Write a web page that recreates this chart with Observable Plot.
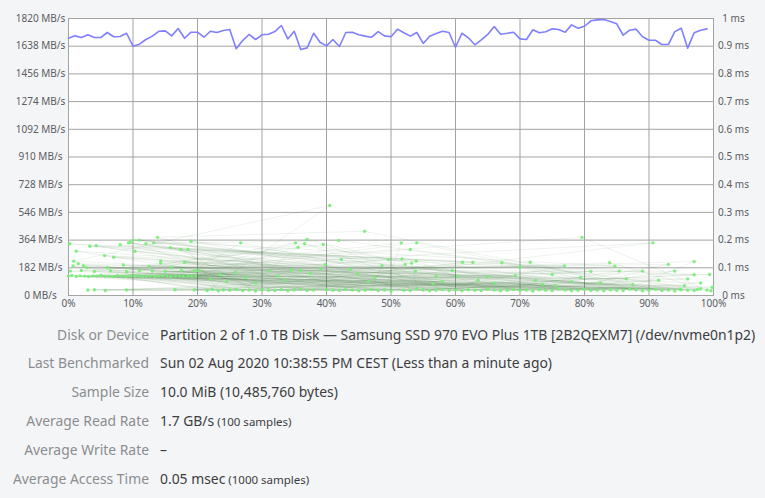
<!DOCTYPE html>
<html>
<head>
<meta charset="utf-8">
<script src="https://cdn.jsdelivr.net/npm/d3@7"></script>
<script src="https://cdn.jsdelivr.net/npm/@observablehq/plot@0.6"></script>
<style>
  html, body { margin: 0; padding: 0; background: #f4f5f7; }
  body { width: 765px; height: 498px; overflow: hidden; font-family: "Noto Sans", "Open Sans", sans-serif; }
  #chart svg { display: block; }
  #info { margin-top: 8.5px; }
  .row { display: flex; height: 28.9px; line-height: 28.9px; font-size: 13.9px; white-space: nowrap; }
  .lab { width: 149px; text-align: right; color: #8b8d90; }
  .val { padding-left: 11px; color: #3c3d3f; }
  .small { font-size: 11.5px; }
</style>
</head>
<body>
<div id="chart"></div>
<div id="info"></div>
<script>
// ---- axis ticks ----
const xTicks = [0, 10, 20, 30, 40, 50, 60, 70, 80, 90, 100];
const yTicks = [0, 182, 364, 546, 728, 910, 1092, 1274, 1456, 1638, 1820];
const msTickLabels = ["0 ms", "0.1 ms", "0.2 ms", "0.3 ms", "0.4 ms", "0.5 ms", "0.6 ms", "0.7 ms", "0.8 ms", "0.9 ms", "1 ms"];
const msMax = 1;        // right axis max (ms)
const mbsMax = 1820;    // left axis max (MB/s)

// ---- read rate samples (MB/s), 100 samples at 0%..99% ----
const readRate = [
  1690, 1706, 1695, 1713, 1695, 1695, 1728, 1700, 1702, 1723,
  1638, 1651, 1682, 1704, 1736, 1739, 1706, 1754, 1690, 1730,
  1730, 1697, 1736, 1728, 1741, 1748, 1621, 1675, 1715, 1682,
  1713, 1717, 1734, 1774, 1686, 1736, 1616, 1627, 1723, 1664,
  1640, 1682, 1636, 1728, 1730, 1713, 1704, 1697, 1734, 1706,
  1700, 1750, 1726, 1704, 1728, 1656, 1704, 1721, 1736, 1728,
  1631, 1723, 1693, 1647, 1680, 1715, 1767, 1717, 1723, 1730,
  1686, 1682, 1746, 1726, 1733, 1752, 1748, 1730, 1778, 1756,
  1769, 1805, 1811, 1813, 1800, 1785, 1710, 1743, 1750, 1700,
  1677, 1677, 1649, 1649, 1734, 1756, 1625, 1726, 1743, 1752
];

// ---- access time samples [offset %, ms] ----
const accessLeft = [
  [0.0,0.070],[13.8,0.210],[9.5,0.071],[2.0,0.090],[5.0,0.073],[0.2,0.187],[17.2,0.070],[11.0,0.090],[1.2,0.069],[10.0,0.200],
  [14.6,0.072],[3.0,0.020],[7.6,0.072],[6.5,0.089],[19.1,0.070],[5.6,0.144],[3.8,0.071],[15.0,0.087],[12.1,0.070],[1.2,0.160],
  [8.2,0.070],[0.8,0.124],[16.6,0.071],[9.0,0.086],[0.5,0.072],[13.2,0.190],[11.5,0.068],[4.0,0.087],[18.5,0.072],[14.3,0.117],
  [2.5,0.070],[19.5,0.088],[6.3,0.070],[3.3,0.178],[15.9,0.068],[13.0,0.088],[10.2,0.070],[8.0,0.183],[4.4,0.070],[2.3,0.108],
  [17.8,0.069],[9.0,0.020],[12.7,0.071],[0.3,0.088],[7.0,0.068],[15.8,0.173],[1.8,0.071],[17.5,0.090],[14.0,0.070],[11.0,0.200],
  [5.7,0.069],[0.7,0.107],[19.7,0.071],[4.3,0.180],[8.9,0.069],[20.2,0.090],[3.1,0.068],[12.0,0.187],[16.5,0.021],[10.8,0.072],
  [7.0,0.138],[18.5,0.166],[13.4,0.069],[2.8,0.100],[15.3,0.070],[9.3,0.190],[6.0,0.100],[4.0,0.021],[17.4,0.166],[14.3,0.125],
  [1.5,0.115],[19.0,0.196],[8.5,0.110],[10.3,0.160],[12.5,0.105],[5.7,0.018],[16.0,0.100],[9.6,0.192],[18.0,0.120],[19.5,0.020]
];
const accessBottom = [
  [92,0.018],[45,0.017],[99,0.020],[71,0.020],[24,0.020],[86,0.018],[58,0.022],[97,0.018],[33,0.022],[79,0.019],
  [64,0.018],[90,0.019],[28,0.020],[53,0.018],[95,0.021],[76,0.024],[40,0.021],[83,0.017],[67,0.017],[99.6,0.017],
  [21.5,0.018],[88,0.020],[49,0.020],[73,0.021],[36,0.024],[94,0.016],[61,0.017],[81,0.018],[30,0.021],[98,0.024],
  [56,0.017],[85,0.019],[42,0.018],[69,0.022],[25,0.019],[91,0.022],[77,0.020],[47,0.022],[96,0.019],[62,0.021],
  [34,0.017],[87,0.023],[52,0.019],[80,0.022],[22.3,0.022],[93,0.020],[66,0.020],[38,0.020],[74,0.019],[89,0.017],
  [59,0.018],[27,0.018],[84,0.021],[44,0.020],[70,0.018],[31,0.019],[97.5,0.022],[55,0.020],[78,0.017],[41,0.019],
  [65,0.023],[23.2,0.017],[82,0.020],[50,0.016],[35,0.020],[72,0.016],[94.8,0.023],[57,0.019],[29,0.016],[75,0.018],
  [43,0.023],[60,0.020],[26,0.023],[68,0.019],[37,0.018],[63,0.019],[48,0.018],[32,0.018],[54,0.024],[46,0.019]
];
const accessMid = [
  [45.9,0.232],[22.0,0.060],[79.6,0.210],[31.2,0.088],[61.1,0.120],[97.0,0.123],[36.6,0.187],[53.8,0.087],[84.7,0.106],[25.9,0.084],
  [66.0,0.045],[42.3,0.130],[90.6,0.190],[49.6,0.130],[75.0,0.076],[35.2,0.190],[99.4,0.076],[57.0,0.069],[27.5,0.065],[83.9,0.118],
  [40.5,0.325],[71.6,0.120],[51.6,0.190],[94.0,0.088],[33.5,0.055],[64.9,0.067],[39.5,0.184],[86.5,0.060],[20.2,0.090],[53.0,0.166],
  [76.9,0.107],[44.8,0.078],[97.0,0.075],[37.0,0.202],[60.3,0.069],[29.0,0.045],[89.0,0.088],[48.6,0.108],[70.0,0.102],[26.7,0.190],
  [81.0,0.087],[54.0,0.190],[39.8,0.112],[95.5,0.035],[62.7,0.120],[23.5,0.075],[85.4,0.088],[43.7,0.095],[73.5,0.040],[51.7,0.132],
  [99.8,0.030],[35.6,0.174],[67.2,0.118],[24.5,0.050],[93.0,0.112],[58.0,0.050],[41.9,0.199],[78.0,0.050],[32.5,0.070],[87.5,0.040],
  [53.9,0.124],[69.3,0.072],[39.1,0.097],[96.0,0.060],[56.5,0.042],[46.5,0.050],[82.5,0.045],[36.0,0.090],[72.4,0.054],[98.0,0.045],
  [52.2,0.112],[63.5,0.055],[34.5,0.092],[91.5,0.055],[47.5,0.065],[79.4,0.065],[37.5,0.080],[59.5,0.090],[53.2,0.117],[75.5,0.036]
];

// ---- info table ----
const infoLabels = ["Disk or Device", "Last Benchmarked", "Sample Size", "Average Read Rate", "Average Write Rate", "Average Access Time"];
const infoValues = [
  "Partition 2 of 1.0 TB Disk — Samsung SSD 970 EVO Plus 1TB [2B2QEXM7] (/dev/nvme0n1p2)",
  "Sun 02 Aug 2020 10:38:55 PM CEST (Less than a minute ago)",
  "10.0 MiB (10,485,760 bytes)",
  "1.7 GB/s",
  "–",
  "0.05 msec"
];
const infoNotes = ["", "", "", "(100 samples)", "", "(1000 samples)"];

// build tables for the library
const readData = readRate.map((v, i) => ({x: i, mbs: v}));
const accessSeq = [];
accessLeft.forEach((p, i) => {
  accessSeq.push({x: p[0], ms: p[1]});
  if (accessBottom[i]) accessSeq.push({x: accessBottom[i][0], ms: accessBottom[i][1]});
  if (accessMid[i]) accessSeq.push({x: accessMid[i][0], ms: accessMid[i][1]});
});
const toY = ms => ms / msMax * mbsMax;

const chart = Plot.plot({
  width: 765,
  height: 312,
  marginLeft: 68,
  marginRight: 52,
  marginTop: 18,
  marginBottom: 17,
  x: {domain: [0, 100]},
  y: {domain: [0, mbsMax]},
  style: {fontFamily: "'Noto Sans', sans-serif", fontSize: "10px", background: "transparent", color: "#5a5c5f", overflow: "visible"},
  marks: [
    Plot.frame({fill: "white", stroke: null}),
    Plot.gridX({ticks: xTicks, stroke: "#a3a3a3", strokeOpacity: 1}),
    Plot.gridY({ticks: yTicks, stroke: "#a3a3a3", strokeOpacity: 1}),
    Plot.frame({stroke: "#a3a3a3"}),
    Plot.line(accessSeq, {x: "x", y: d => toY(d.ms), stroke: "#2d6a2d", strokeOpacity: 0.14, strokeWidth: 0.6}),
    Plot.dot(accessSeq, {x: "x", y: d => toY(d.ms), r: 1.7, fill: "#74ee74", fillOpacity: 0.9, stroke: null}),
    Plot.line(readData, {x: "x", y: "mbs", stroke: "#7f7fff", strokeWidth: 1.6}),
    Plot.axisX({ticks: xTicks, tickFormat: d => d + "%", tickSize: 0, tickPadding: 4, label: null}),
    Plot.axisY({anchor: "left", ticks: yTicks, tickFormat: d => d + " MB/s", tickSize: 0, tickPadding: 28, textAnchor: "middle", label: null}),
    Plot.axisY({anchor: "right", ticks: yTicks, tickFormat: d => msTickLabels[yTicks.indexOf(d)], tickSize: 0, tickPadding: 20, textAnchor: "middle", label: null})
  ]
});
document.getElementById("chart").appendChild(chart);

const info = document.getElementById("info");
infoLabels.forEach((lab, i) => {
  const row = document.createElement("div");
  row.className = "row";
  const l = document.createElement("div");
  l.className = "lab";
  l.textContent = lab;
  const v = document.createElement("div");
  v.className = "val";
  v.textContent = infoValues[i];
  if (infoNotes[i]) {
    const s = document.createElement("span");
    s.className = "small";
    s.textContent = " " + infoNotes[i];
    v.appendChild(s);
  }
  row.appendChild(l);
  row.appendChild(v);
  info.appendChild(row);
});
</script>
</body>
</html>
